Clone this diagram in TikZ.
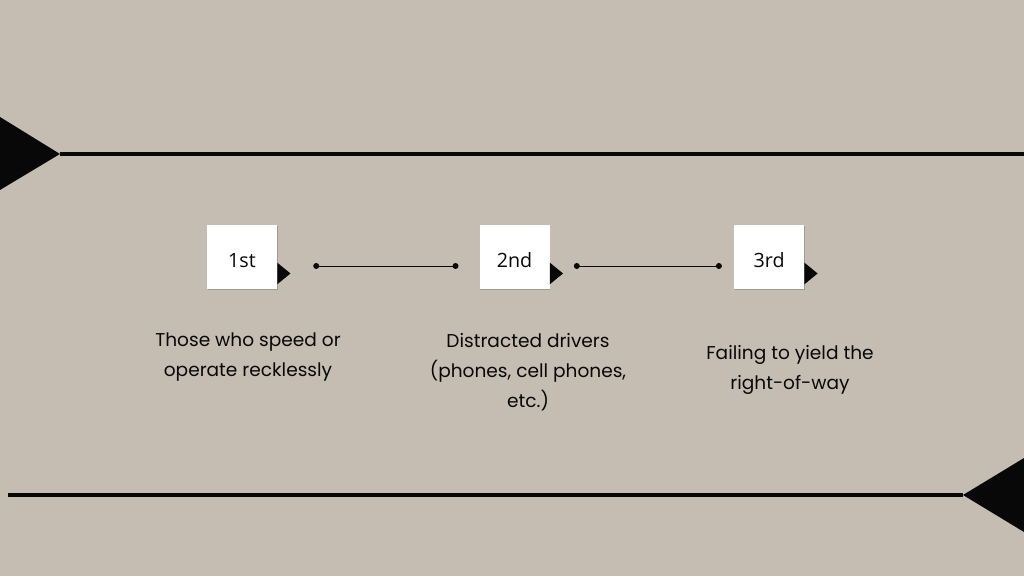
\documentclass[tikz,border=0pt]{standalone}
\usepackage{fontspec}
\setmainfont{Poppins}
\newfontfamily\rankfont{Open Sans}
\usepackage{xcolor}
\usepackage{tikz}
\usetikzlibrary{positioning,calc,arrows.meta,shadows}

\definecolor{paper}{HTML}{C5BDB1}
\definecolor{ink}{HTML}{080808}

\tikzset{
  rankbox/.style = {rectangle, fill = white, minimum width = 1.75cm,
    minimum height = 1.6cm, inner sep = 0pt, text = ink,
    text height = 14.5pt, text depth = 0pt,
    font = \rankfont\fontsize{14}{16}\selectfont,
    drop shadow = {shadow xshift = 0.4pt, shadow yshift = -0.6pt,
      fill = black, opacity = 0.18}},
  desc/.style = {align = center, text = ink,
    font = \fontsize{13.2}{21.3}\selectfont},
  link/.style = {ink, line width = 0.6pt,
    {Circle[length = 4.2pt]}-{Circle[length = 4.2pt]}},
  rail/.style = {ink, line width = 2.2pt}
}

\begin{document}
\begin{tikzpicture}
  \fill[paper] (0,0) rectangle (25.6,14.4);
  \useasboundingbox (0,0) rectangle (25.6,14.4);

  % top and bottom rails
  \coordinate (toptip) at (1.5,10.55);
  \coordinate (topend) at (25.6,10.55);
  \coordinate (bottip) at (24.075,2.025);
  \coordinate (botend) at (0.2,2.025);
  \draw[rail] (toptip) -- (topend);
  \fill[ink] (0,11.475) -- (toptip) -- (0,9.65) -- cycle;
  \draw[rail] (bottip) -- (botend);
  \fill[ink] (25.6,2.95) -- (bottip) -- (25.6,1.1) -- cycle;

  % ranking boxes
  \node[rankbox] (first) at (6.05,7.975) {1st};
  \node[rankbox, right = 5.05cm of first] (second) {2nd};
  \node[rankbox, right = 4.6cm of second] (third) {3rd};

  \foreach \b in {first, second, third}
    \fill[ink] ($(\b.south east)+(0,0.125)$) -- ++(0.33,0.27)
      -- ++(-0.33,0.27) -- cycle;

  \draw[link, shorten <= 0.9cm, shorten >= 0.52cm]
    ($(first.east)+(0,-0.225)$) -- ($(second.west)+(0,-0.225)$);
  \draw[link, shorten <= 0.6cm, shorten >= 0.3cm]
    ($(second.east)+(0,-0.225)$) -- ($(third.west)+(0,-0.225)$);

  % descriptions
  \node[desc] (firstdesc) at (6.2,5.475)
    {Those who speed or\\operate recklessly};
  \node[desc] (seconddesc) at (13.2,5.1)
    {Distracted drivers\\(phones, cell phones,\\etc.)};
  \node[desc] (thirddesc) at (19.75,5.15)
    {Failing to yield the\\right-of-way};
\end{tikzpicture}
\end{document}
